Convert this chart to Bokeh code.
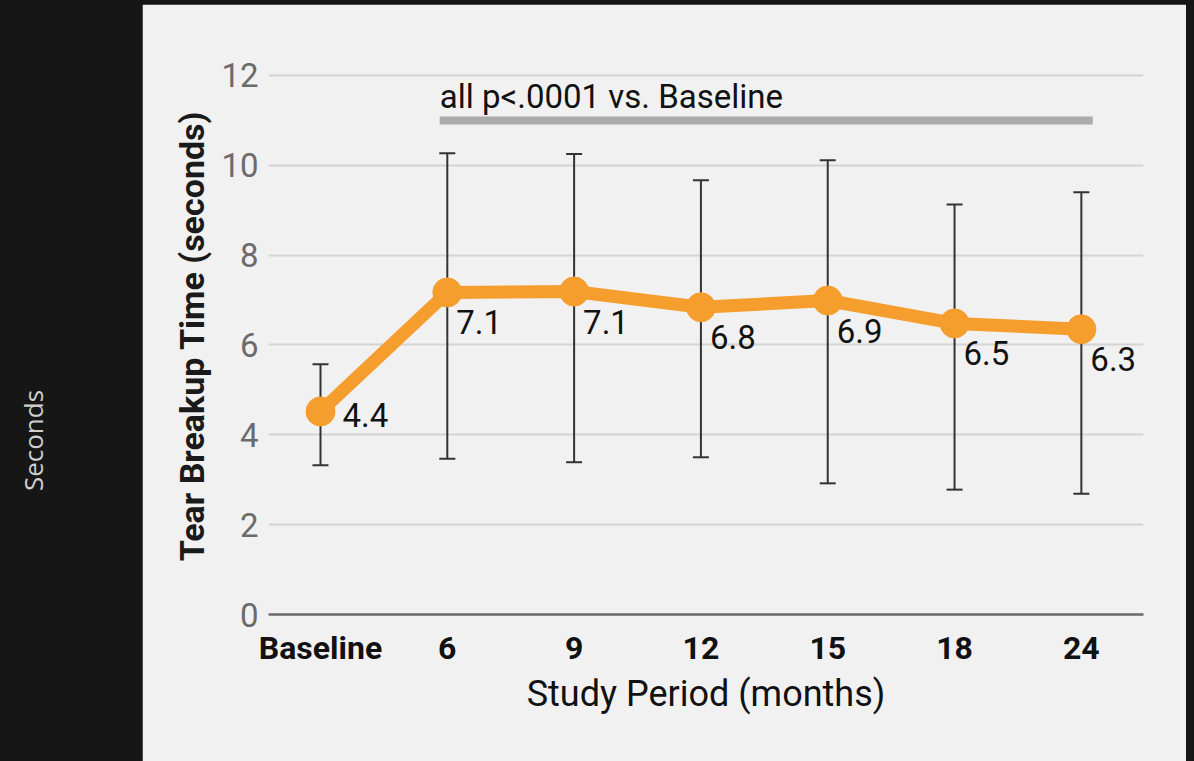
import math
from bokeh.plotting import figure
from bokeh.layouts import row, column
from bokeh.models import Range1d, FixedTicker, Spacer
from bokeh.core.properties import value
from bokeh.embed import file_html
from bokeh.resources import INLINE

# ---- data ----
periods = ["Baseline", "6", "9", "12", "15", "18", "24"]
mean_tbut = [4.52, 7.17, 7.19, 6.84, 6.99, 6.48, 6.35]
value_labels = ["4.4", "7.1", "7.1", "6.8", "6.9", "6.5", "6.3"]
err_upper = [5.57, 10.27, 10.25, 9.67, 10.11, 9.13, 9.40]
err_lower = [3.32, 3.47, 3.39, 3.50, 2.92, 2.78, 2.69]
y_ticks = [0, 2, 4, 6, 8, 10, 12]
sig_text = "all p<.0001 vs. Baseline"
sig_level = 11.0

xs = list(range(len(periods)))

PANEL = "#f1f1f1"
DARK = "#161616"
ORANGE = "#F59E2E"

# ---- left dark strip with rotated label ----
left = figure(width=142, height=761, x_range=Range1d(0, 142), y_range=Range1d(0, 761),
              output_backend="svg", toolbar_location=None,
              min_border_left=0, min_border_right=0, min_border_top=0, min_border_bottom=0)
left.axis.visible = False
left.grid.visible = False
left.background_fill_color = DARK
left.border_fill_color = DARK
left.outline_line_color = None
left.text(x=[32], y=[321], text=["Seconds"], angle=math.pi / 2,
          text_align="center", text_baseline="middle",
          text_font=value("Open Sans"), text_font_size="26px", text_color="#d0d0d0")

# ---- main chart ----
p = figure(width=1044, height=757, x_range=Range1d(-0.41, 6.49), y_range=Range1d(0, 12.4),
           output_backend="svg", toolbar_location=None,
           min_border_left=126, min_border_right=43, min_border_top=53, min_border_bottom=147)
p.background_fill_color = PANEL
p.border_fill_color = PANEL
p.outline_line_color = PANEL
p.outline_line_width = 2

p.xgrid.visible = False
p.ygrid.grid_line_color = "#d4d4d4"
p.ygrid.grid_line_width = 2
p.yaxis.ticker = FixedTicker(ticks=y_ticks)
p.xaxis.ticker = FixedTicker(ticks=xs)
p.xaxis.major_label_overrides = {i: s for i, s in enumerate(periods)}

p.yaxis.axis_line_color = None
p.yaxis.major_tick_line_color = None
p.yaxis.minor_tick_line_color = None
p.yaxis.major_tick_out = 0
p.yaxis.major_label_standoff = 10
p.yaxis.major_label_text_font = "Roboto"
p.yaxis.major_label_text_font_size = "33px"
p.yaxis.major_label_text_color = "#6b6b6b"
p.yaxis.axis_label = "Tear Breakup Time (seconds)"
p.yaxis.axis_label_text_font = "Roboto"
p.yaxis.axis_label_text_font_style = "bold"
p.yaxis.axis_label_text_font_size = "34px"
p.yaxis.axis_label_text_color = "#1a1a1a"
p.yaxis.axis_label_standoff = 6

p.xaxis.axis_line_color = "#6a6a6a"
p.xaxis.axis_line_width = 2.5
p.xaxis.major_tick_line_color = None
p.xaxis.minor_tick_line_color = None
p.xaxis.major_tick_out = 0
p.xaxis.major_label_standoff = 14
p.xaxis.major_label_text_font = "Roboto"
p.xaxis.major_label_text_font_style = "bold"
p.xaxis.major_label_text_font_size = "32px"
p.xaxis.major_label_text_color = "#111111"
p.xaxis.axis_label = "Study Period (months)"
p.xaxis.axis_label_text_font = "Roboto"
p.xaxis.axis_label_text_font_style = "normal"
p.xaxis.axis_label_text_font_size = "36px"
p.xaxis.axis_label_text_color = "#111111"
p.xaxis.axis_label_standoff = 3

# significance bar and text
p.segment(x0=[0.94], y0=[sig_level], x1=[6.09], y1=[sig_level],
          line_width=8, line_color="#ababab", line_cap="butt")
p.text(x=[0.94], y=[sig_level], text=[sig_text], y_offset=-24,
       text_align="left", text_baseline="alphabetic",
       text_font=value("Roboto"), text_font_size="33px", text_color="#111111")

# error bars
p.segment(x0=xs, y0=err_lower, x1=xs, y1=err_upper, line_width=2, line_color="#333333")
p.scatter(x=xs, y=err_upper, marker="dash", size=16, line_width=2, line_color="#333333")
p.scatter(x=xs, y=err_lower, marker="dash", size=16, line_width=2, line_color="#333333")

# line + markers
p.line(x=xs, y=mean_tbut, line_width=13, line_color=ORANGE, line_join="round")
p.scatter(x=xs, y=mean_tbut, size=29, fill_color=ORANGE, line_color=ORANGE)

# value labels
p.text(x=xs[:1], y=mean_tbut[:1], text=value_labels[:1], x_offset=22, y_offset=4,
       text_align="left", text_baseline="alphabetic",
       text_font=value("Roboto"), text_font_size="33px", text_color="#111111")
p.text(x=xs[1:], y=mean_tbut[1:], text=value_labels[1:], x_offset=9, y_offset=30,
       text_align="left", text_baseline="alphabetic",
       text_font=value("Roboto"), text_font_size="33px", text_color="#111111")

layout = row(left, column(Spacer(width=1044, height=4), p))

html = file_html(layout, INLINE)
html = html.replace("</head>",
                    "<style>html,body{margin:0;padding:0;background:#161616;overflow:hidden;}</style></head>", 1)
open("out.html", "w").write(html)
